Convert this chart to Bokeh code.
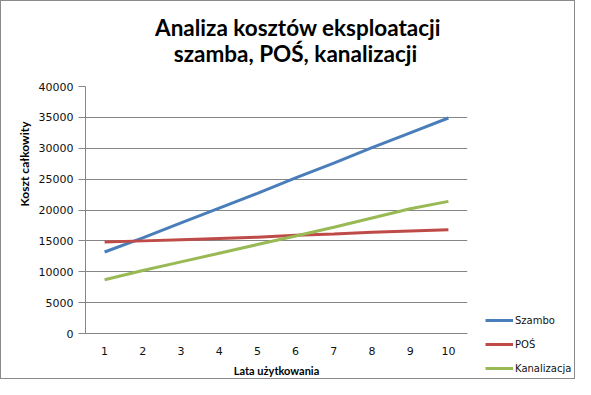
import math
from bokeh.plotting import figure
from bokeh.models import Range1d, FixedTicker, Legend, LegendItem, Label
from bokeh.layouts import column, row
from bokeh.embed import file_html
from bokeh.resources import INLINE

# ---- data ----
years = [1, 2, 3, 4, 5, 6, 7, 8, 9, 10]
szambo = [13200, 15500, 17900, 20300, 22700, 25200, 27600, 30100, 32500, 34900]
pos = [14800, 15000, 15200, 15400, 15600, 15900, 16100, 16400, 16600, 16800]
kanalizacja = [8700, 10200, 11600, 13000, 14400, 15800, 17200, 18700, 20200, 21400]
y_ticks = [0, 5000, 10000, 15000, 20000, 25000, 30000, 35000, 40000]
title_lines = ["Analiza kosztów eksploatacji", "szamba, POŚ, kanalizacji"]
x_label = "Lata użytkowania"
y_label = "Koszt całkowity"
series_names = ["Szambo", "POŚ", "Kanalizacja"]

GRID = "#868686"
BORDER = "1px solid #8a8a8a"
colors = ["#4a7ebb", "#be4b48", "#98b954"]
series = [szambo, pos, kanalizacja]


def blank(w, h, styles):
    f = figure(width=w, height=h, output_backend="svg", toolbar_location=None,
               x_axis_location=None, y_axis_location=None, title=None,
               x_range=Range1d(0, 1), y_range=Range1d(0, 1),
               min_border_left=0, min_border_right=0, min_border_top=0, min_border_bottom=0,
               background_fill_color="white", border_fill_color="white")
    f.grid.visible = False
    f.outline_line_color = None
    f.styles = styles
    return f


# ---- title strip ----
T = blank(575, 76, {"border-top": BORDER, "border-left": BORDER, "border-right": BORDER})
for txt, sx, sy in zip(title_lines, [296.5, 294], [50, 24]):
    T.add_layout(Label(x=sx, y=sy, x_units="screen", y_units="screen", text=txt,
                       text_align="center", text_baseline="alphabetic",
                       text_font="Lato", text_font_style="bold", text_font_size="22.5px",
                       text_color="#000000"))

# ---- y label strip ----
Y = blank(35, 303, {"border-left": BORDER, "border-bottom": BORDER})
Y.add_layout(Label(x=23, y=173, x_units="screen", y_units="screen", text=y_label,
                   angle=math.pi / 2, text_align="left", text_baseline="middle",
                   text_font="Lato", text_font_style="bold", text_font_size="12px",
                   text_color="#000000"))

# ---- main chart ----
M = figure(width=435, height=303, output_backend="svg", toolbar_location=None, title=None,
           x_range=Range1d(0.5, 10.5), y_range=Range1d(0, 40000),
           min_border_left=48, min_border_right=3, min_border_top=10, min_border_bottom=45,
           background_fill_color="white", border_fill_color="white")
M.styles = {"border-bottom": BORDER}
M.outline_line_color = None
M.xgrid.grid_line_color = None
M.ygrid.grid_line_color = GRID
M.ygrid.grid_line_width = 1
M.ygrid.ticker = FixedTicker(ticks=y_ticks)

M.xaxis.ticker = FixedTicker(ticks=years)
M.xaxis.axis_line_color = GRID
M.xaxis.major_tick_line_color = None
M.xaxis.minor_tick_line_color = None
M.xaxis.major_tick_out = 0
M.xaxis.major_tick_in = 0
M.xaxis.major_label_standoff = 13
M.xaxis.major_label_text_font = "DejaVu Sans"
M.xaxis.major_label_text_font_size = "11px"
M.xaxis.major_label_text_color = "#111111"
M.xaxis.axis_label = x_label
M.xaxis.axis_label_standoff = 6
M.xaxis.axis_label_text_font = "Lato"
M.xaxis.axis_label_text_font_style = "bold"
M.xaxis.axis_label_text_font_size = "11px"
M.xaxis.axis_label_text_color = "#000000"

M.yaxis.ticker = FixedTicker(ticks=y_ticks)
M.yaxis.axis_line_color = GRID
M.yaxis.major_tick_line_color = GRID
M.yaxis.minor_tick_line_color = None
M.yaxis.major_tick_out = 7
M.yaxis.major_tick_in = 0
M.yaxis.major_label_standoff = 5
M.yaxis.major_label_text_font = "DejaVu Sans"
M.yaxis.major_label_text_font_size = "11px"
M.yaxis.major_label_text_color = "#111111"

for ys, c in zip(series, colors):
    M.line(years, ys, line_color=c, line_width=3)

# ---- legend strip (its lines lie outside this strip's ranges; only the swatches show) ----
L = blank(105, 303, {"border-right": BORDER, "border-bottom": BORDER})
swatches = [L.line(years, ys, line_color=c, line_width=3) for ys, c in zip(series, colors)]
legend = Legend(items=[LegendItem(label=n, renderers=[r]) for n, r in zip(series_names, swatches)],
                location=(15, 3), orientation="vertical",
                glyph_width=28, glyph_height=16, label_height=16, spacing=8,
                label_standoff=2, padding=0, margin=0,
                border_line_color=None, background_fill_alpha=0,
                label_text_font="DejaVu Sans", label_text_font_size="10px",
                label_text_color="#111111")
L.add_layout(legend, "center")

# M is wrapped in its own column so the row does not align the strips' frames to its frame
layout = column(T, row(Y, column(M), L))
open("out.html", "w").write(file_html(layout, INLINE))
